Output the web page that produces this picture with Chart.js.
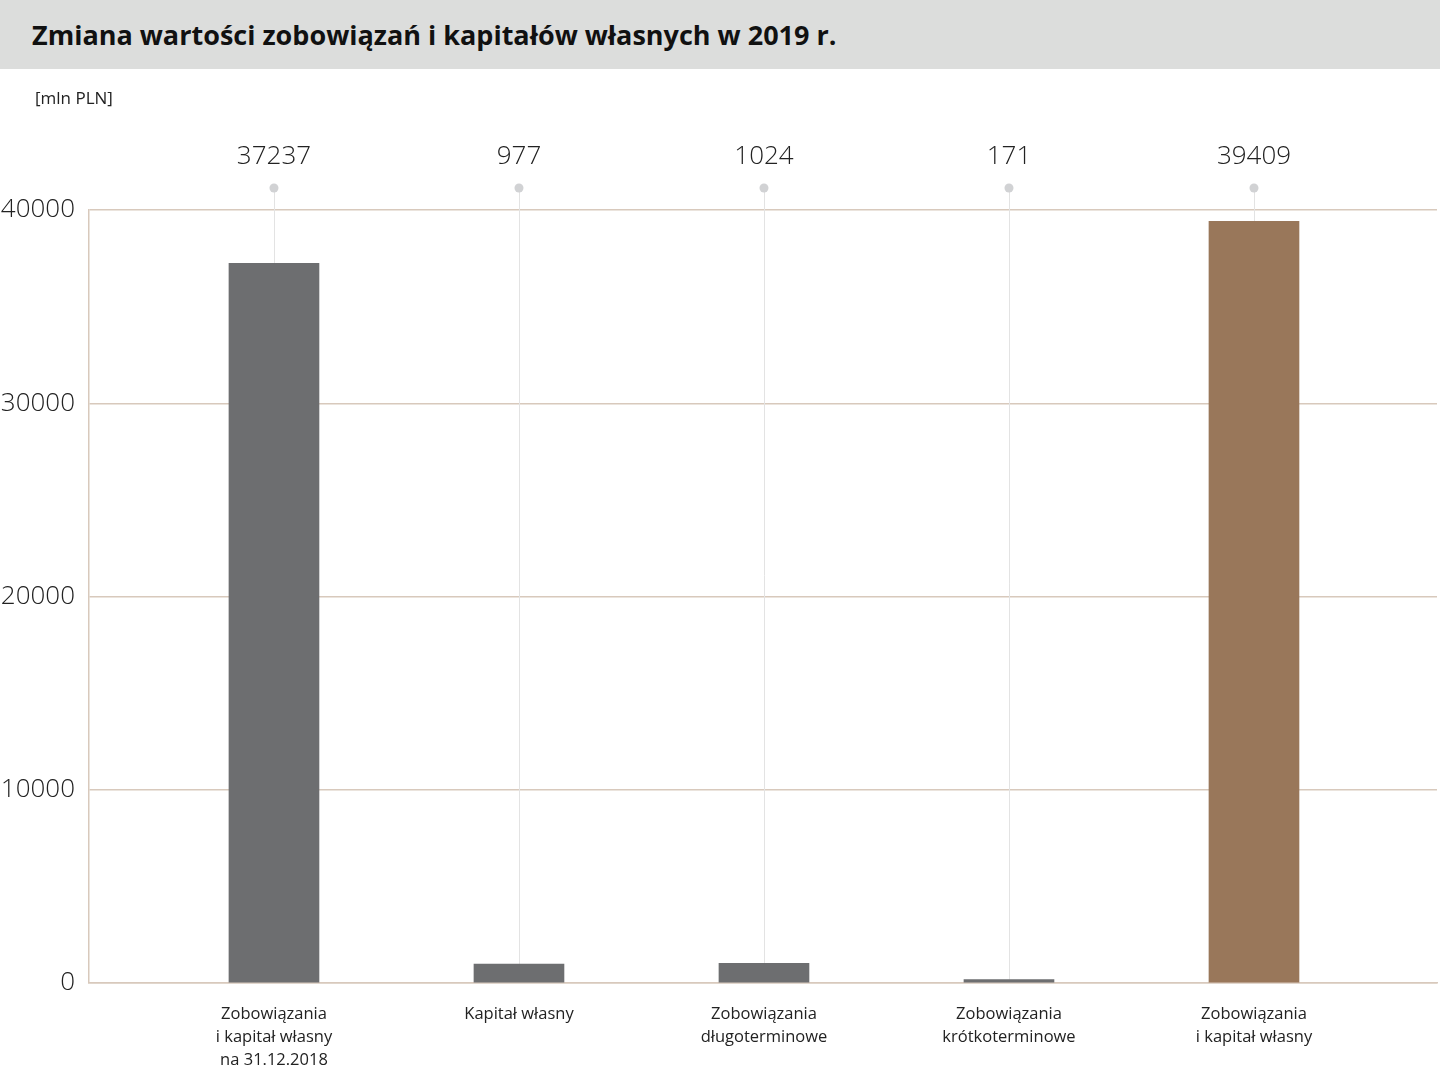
<!DOCTYPE html>
<html lang="pl">
<head>
<meta charset="utf-8">
<title>Zmiana wartości zobowiązań i kapitałów własnych w 2019 r.</title>
<script src="https://cdn.jsdelivr.net/npm/chart.js@4/dist/chart.umd.min.js"></script>
<style>
	body { margin: 0; background: #fff; font-family: "Open Sans", sans-serif; }
	#wrap { position: relative; width: 1440px; height: 1065px; overflow: hidden; }
	#myChart { position: absolute; left: 0; top: 0; }
	.title {
		position: absolute; left: 0; top: 0; width: 1440px; height: 69px;
		background: #dcdddc; color: #111; font-weight: 700; font-size: 27px;
		line-height: 69px; padding-left: 32px; box-sizing: border-box;
	}
	.unit { position: absolute; left: 35px; top: 86px; font-size: 17px; color: #222; }
</style>
</head>
<body>
<div id="wrap">
	<canvas id="myChart" width="1440" height="1065"></canvas>
	<div class="title">Zmiana wartości zobowiązań i kapitałów własnych w 2019 r.</div>
	<div class="unit">[mln PLN]</div>
</div>
<script>
const categories = [
	["Zobowiązania", "i kapitał własny", "na 31.12.2018"],
	["Kapitał własny"],
	["Zobowiązania", "długoterminowe"],
	["Zobowiązania", "krótkoterminowe"],
	["Zobowiązania", "i kapitał własny"]
];
const values = [37237, 977, 1024, 171, 39409];
const barColors = ['#6d6e70', '#6d6e70', '#6d6e70', '#6d6e70', '#99775a'];
const yTicks = [0, 10000, 20000, 30000, 40000];

// stems with a dot and the value above every bar
const stemLabels = {
	id: 'stemLabels',
	beforeDatasetsDraw(chart) {
		const ctx = chart.ctx;
		const top = chart.chartArea.top;
		const meta = chart.getDatasetMeta(0);
		ctx.save();
		meta.data.forEach((bar, i) => {
			ctx.strokeStyle = '#e3e3e3';
			ctx.lineWidth = 1;
			ctx.beginPath();
			ctx.moveTo(Math.round(bar.x) + 0.5, top - 22);
			ctx.lineTo(Math.round(bar.x) + 0.5, bar.y);
			ctx.stroke();

			ctx.fillStyle = '#d1d2d4';
			ctx.beginPath();
			ctx.arc(bar.x, top - 22, 4.5, 0, Math.PI * 2);
			ctx.fill();

			ctx.fillStyle = '#222';
			ctx.font = '300 26px "Open Sans"';
			ctx.textAlign = 'center';
			ctx.textBaseline = 'middle';
			ctx.fillText(String(values[i]), bar.x, top - 53);
		});
		ctx.restore();
	}
};

const ctx = document.getElementById('myChart');

new Chart(ctx, {
	type: 'bar',
	data: {
		datasets: [{
			data: values.map((v, i) => ({ x: i, y: v })),
			backgroundColor: barColors,
			barThickness: 90
		}]
	},
	options: {
		responsive: false,
		animation: false,
		layout: { padding: { top: 210, right: 3, left: 0, bottom: 0 } },
		plugins: {
			legend: { display: false },
			tooltip: { enabled: false }
		},
		scales: {
			x: {
				type: 'linear',
				offset: false,
				min: -0.755,
				max: 4.747,
				afterBuildTicks: (scale) => {
					scale.ticks = categories.map((c, i) => ({ value: i }));
				},
				afterFit: (scale) => { scale.height = 82; },
				grid: { display: false, drawTicks: false, offset: false },
				border: { color: '#d8c9bc', width: 1.5 },
				ticks: {
					autoSkip: false,
					maxRotation: 0,
					padding: 20,
					color: '#222',
					font: { family: 'Open Sans', size: 16.5, lineHeight: 1.38 },
					callback: (v) => categories[v]
				}
			},
			y: {
				min: 0,
				max: 40000,
				afterBuildTicks: (scale) => {
					scale.ticks = yTicks.map(v => ({ value: v }));
				},
				afterFit: (scale) => { scale.width = 89; },
				grid: { color: '#d8c9bc', lineWidth: 1.5, drawTicks: false },
				border: { color: '#d8c9bc', width: 1.5 },
				ticks: {
					padding: 14,
					color: '#222',
					font: { family: 'Open Sans', size: 26, weight: '300' },
					callback: (v) => String(v)
				}
			}
		}
	},
	plugins: [stemLabels]
});
</script>
</body>
</html>
